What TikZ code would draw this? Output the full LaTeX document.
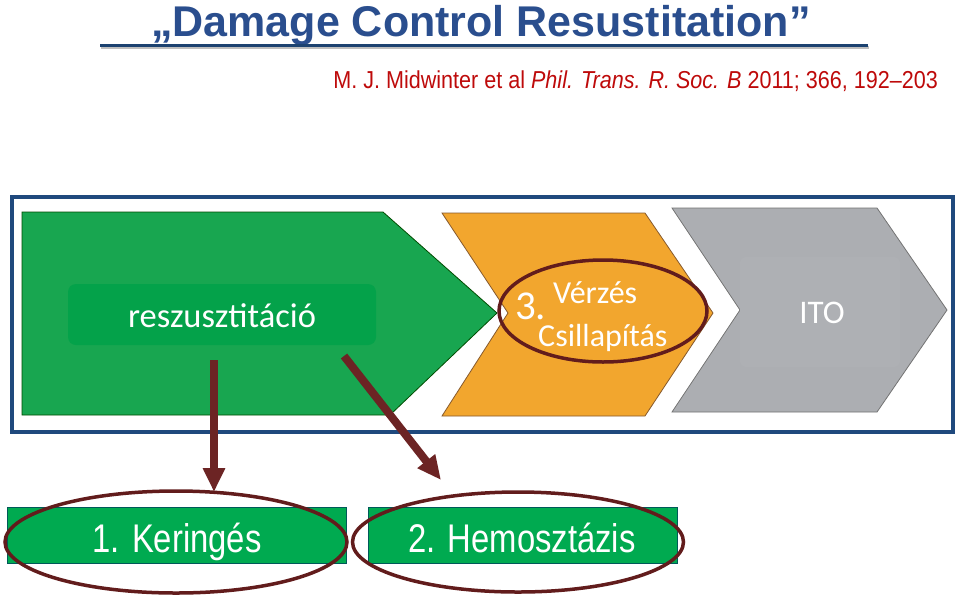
\documentclass[tikz,border=0pt]{standalone}
\usepackage{fontspec}
\setmainfont{Liberation Sans}
\newfontfamily\carl{Carlito}
\newfontfamily\narrowf[FakeStretch=0.82]{Liberation Sans}
\newfontfamily\citef[FakeStretch=0.88]{Liberation Sans}
\usetikzlibrary{arrows.meta,shapes.geometric}
\definecolor{titleblue}{RGB}{42,78,142}
\definecolor{citered}{RGB}{190,10,10}
\definecolor{frameblue}{RGB}{31,73,125}
\definecolor{chgreen}{RGB}{24,166,80}
\definecolor{ingreen}{RGB}{4,162,74}
\definecolor{chorange}{RGB}{242,166,46}
\definecolor{chgray}{RGB}{172,174,178}
\definecolor{ingray}{RGB}{174,176,180}
\definecolor{ringbrown}{RGB}{98,28,28}
\definecolor{arrbrown}{RGB}{108,36,36}
\definecolor{boxgreen}{RGB}{0,170,80}
\tikzset{
  chev/.style={line width=0.8pt, line join=miter},
  ring/.style={ellipse, draw=ringbrown, line width=3.5pt, inner sep=0pt},
  bigarrow/.style={draw=arrbrown, line width=8pt, -{Triangle[width=21pt,length=24pt]}, arrbrown},
  whitelbl/.style={text=white, inner sep=0pt},
  botbox/.style={fill=boxgreen, draw=teal!70!black, line width=0.6pt, inner sep=0pt},
}
\begin{document}
\begin{tikzpicture}[x=1pt,y=-1pt]
\useasboundingbox[fill=white] (0,0) rectangle (960,595);

% title
\node[anchor=base, text=titleblue, inner sep=0pt, font=\fontsize{43}{43}\selectfont\bfseries] (title) at (481,36) {„Damage Control Resustitation”};
\draw[black!25, line width=3pt] (101,47.5) -- (869,47.5);
\draw[frameblue!90!black, line width=3pt] (100,45) -- (868,45);
\node[anchor=base east, text=citered, inner sep=0pt, font=\citef\fontsize{24.5}{24.5}\selectfont] (cite) at (938,88) {M. J. Midwinter et al \textit{Phil. Trans. R. Soc. B} 2011; 366, 192–203};

% frame
\draw[frameblue, line width=4pt] (12,197) rectangle (953,432);

% green chevron
\fill[chgreen, draw=green!30!black, chev] (22,212) -- (383,212) -- (497,313) -- (390,415) -- (22,415) -- cycle;
\node[fill=ingreen, rounded corners=8pt, minimum width=308pt, minimum height=61pt, inner sep=0pt] (resbox) at (222,314.5) {};
\node[whitelbl, anchor=base, font=\carl\fontsize{34.5}{34.5}\selectfont] (res) at (222,327) {reszusztitáció};

% orange chevron
\fill[chorange, draw=brown!70!black, chev] (442,213) -- (645,213) -- (713,313) -- (645,416) -- (442,416) -- (508,313) -- cycle;
% gray chevron
\fill[chgray, draw=black!55, chev] (672,208) -- (877,208) -- (947,310) -- (877,412) -- (672,412) -- (740,310) -- cycle;
\node[fill=ingray, rounded corners=6pt, minimum width=160pt, minimum height=110pt, inner sep=0pt] (itobox) at (820,312) {};
\node[whitelbl, anchor=base, font=\carl\fontsize{33}{33}\selectfont] (ito) at (822,323) {ITO};

% step 3 text and ring
\node[whitelbl, anchor=base west, font=\carl\fontsize{41}{41}\selectfont] (n3) at (515,319) {3.};
\node[whitelbl, anchor=base west, font=\carl\fontsize{32}{32}\selectfont] (verz) at (553,303) {Vérzés};
\node[whitelbl, anchor=base west, font=\carl\fontsize{32}{32}\selectfont] (csill) at (538,346) {Csillapítás};
\node[ring, minimum width=208pt, minimum height=102pt] (ring3) at (603,311) {};

% bottom boxes
\node[botbox, minimum width=339pt, minimum height=56pt] (box1) at (176.5,535) {};
\node[whitelbl, anchor=base, font=\narrowf\fontsize{40}{40}\selectfont] (ker) at (177,552) {1. Keringés};
\node[ring, minimum width=342pt, minimum height=102pt] (ring1) at (176,542) {};

\node[botbox, minimum width=309pt, minimum height=56pt] (box2) at (522.5,535) {};
\node[whitelbl, anchor=base, font=\narrowf\fontsize{40}{40}\selectfont] (hem) at (522,552) {2. Hemosztázis};
\node[ring, minimum width=331pt, minimum height=100pt] (ring2) at (518,542) {};

% arrows
\coordinate (a1s) at (214,360);
\coordinate (a1e) at (214,492);
\coordinate (a2s) at (344,356);
\coordinate (a2e) at (441,480);
\draw[bigarrow] (a1s) -- (a1e);
\draw[bigarrow] (a2s) -- (a2e);
\end{tikzpicture}
\end{document}
